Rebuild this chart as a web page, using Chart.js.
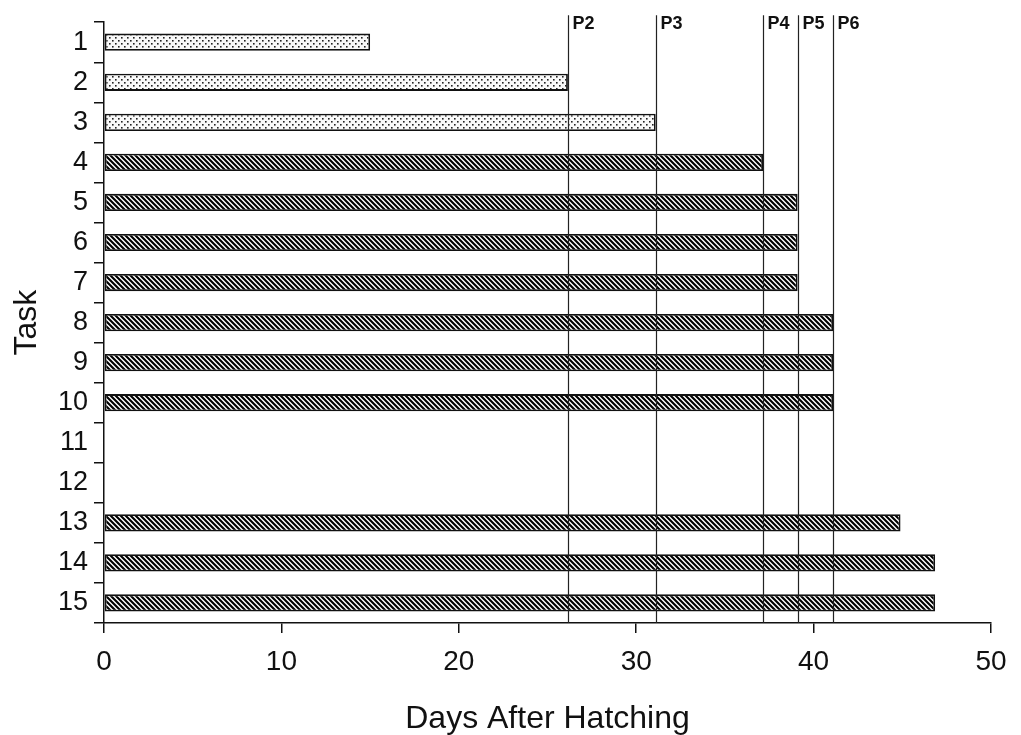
<!DOCTYPE html>
<html>
<head>
<meta charset="utf-8">
<script src="https://cdn.jsdelivr.net/npm/chart.js@4"></script>
<style>
  html, body { margin: 0; padding: 0; background: #fff; }
  #wrap { width: 1021px; height: 735px; }
</style>
</head>
<body>
<div id="wrap"><canvas id="taskChart" width="1021" height="735"></canvas></div>
<script>
// task rows, top to bottom
var tasks = ['1','2','3','4','5','6','7','8','9','10','11','12','13','14','15'];
// days after hatching at which each task is reached (11, 12 have no bar)
var days = [15, 26.15, 31.1, 37.15, 39.1, 39.1, 39.1, 41.1, 41.1, 41.1, null, null, 44.9, 46.85, 46.85];
// fill style of each bar
var fills = ['dots','dots','dots','hatch','hatch','hatch','hatch','hatch','hatch','hatch','hatch','hatch','hatch','hatch','hatch'];
// phase markers
var phases = ['P2','P3','P4','P5','P6'];
var phaseDays = [26.15, 31.1, 37.15, 39.1, 41.1];
var xTicks = [0, 10, 20, 30, 40, 50];

var FONT = "'Liberation Sans', Arial, sans-serif";

function dotPattern(){
	var c = document.createElement('canvas');
	c.width = 6; c.height = 6;
	var g = c.getContext('2d');
	g.fillStyle = '#f8f8f8';
	g.fillRect(0, 0, 6, 6);
	g.fillStyle = '#222';
	g.fillRect(1, 1, 1.6, 1.6);
	g.fillRect(4, 4, 1.6, 1.6);
	return g.createPattern(c, 'repeat');
}
function hatchPattern(){
	var c = document.createElement('canvas');
	c.width = 5; c.height = 5;
	var g = c.getContext('2d');
	g.fillStyle = '#fff';
	g.fillRect(0, 0, 5, 5);
	g.strokeStyle = '#000';
	g.lineWidth = 2.1;
	g.beginPath();
	for (var k = -5; k <= 5; k += 5) {
		g.moveTo(k - 1, -1);
		g.lineTo(k + 6, 6);
	}
	g.stroke();
	return g.createPattern(c, 'repeat');
}
var patterns = { dots: dotPattern(), hatch: hatchPattern() };

// vertical phase lines with their labels
var phaseLines = {
	id: 'phaseLines',
	afterDatasetsDraw: function(chart){
		var ctx = chart.ctx, area = chart.chartArea, xs = chart.scales.x;
		ctx.save();
		ctx.strokeStyle = '#222';
		ctx.lineWidth = 1.2;
		ctx.fillStyle = '#111';
		ctx.font = 'bold 18px ' + FONT;
		ctx.textAlign = 'left';
		ctx.textBaseline = 'alphabetic';
		for (var i = 0; i < phases.length; i++) {
			var px = Math.round(xs.getPixelForValue(phaseDays[i])) + 0.5;
			ctx.beginPath();
			ctx.moveTo(px, area.top - 7);
			ctx.lineTo(px, area.bottom);
			ctx.stroke();
			ctx.fillText(phases[i], px + 4, area.top + 7);
		}
		ctx.restore();
	}
};

new Chart(document.getElementById('taskChart'), {
	type: 'bar',
	data: {
		labels: tasks,
		datasets: [{
			data: days,
			backgroundColor: fills.map(function(f){ return patterns[f]; }),
			borderColor: '#111',
			borderWidth: 1.8,
			borderSkipped: false,
			barPercentage: 0.43,
			categoryPercentage: 1
		}]
	},
	options: {
		responsive: false,
		animation: false,
		indexAxis: 'y',
		layout: { padding: { top: 19, right: 30, left: 0, bottom: 0 } },
		plugins: { legend: { display: false }, tooltip: { enabled: false } },
		scales: {
			x: {
				min: 0, max: 50,
				afterFit: function(s){ s.height = 112; },
				afterBuildTicks: function(s){ s.ticks = xTicks.map(function(v){ return { value: v }; }); },
				border: { color: '#111', width: 1.5 },
				grid: { drawOnChartArea: false, tickLength: 10, color: '#111', lineWidth: 1.5 },
				ticks: { color: '#111', padding: 12, font: { family: FONT, size: 28 } },
				title: { display: true, text: 'Days After Hatching', color: '#111',
					font: { family: FONT, size: 32, lineHeight: 1 }, padding: { top: 0, bottom: 0 } }
			},
			y: {
				afterFit: function(s){ s.width = 104; },
				border: { color: '#111', width: 1.5 },
				grid: { drawOnChartArea: false, offset: true, tickLength: 10, color: '#111', lineWidth: 1.5 },
				ticks: { color: '#111', padding: 6, font: { family: FONT, size: 27 } },
				title: { display: true, text: 'Task', color: '#111',
					font: { family: FONT, size: 32, lineHeight: 1.2 }, padding: { top: 8, bottom: 0 } }
			}
		}
	},
	plugins: [phaseLines]
});
</script>
</body>
</html>
